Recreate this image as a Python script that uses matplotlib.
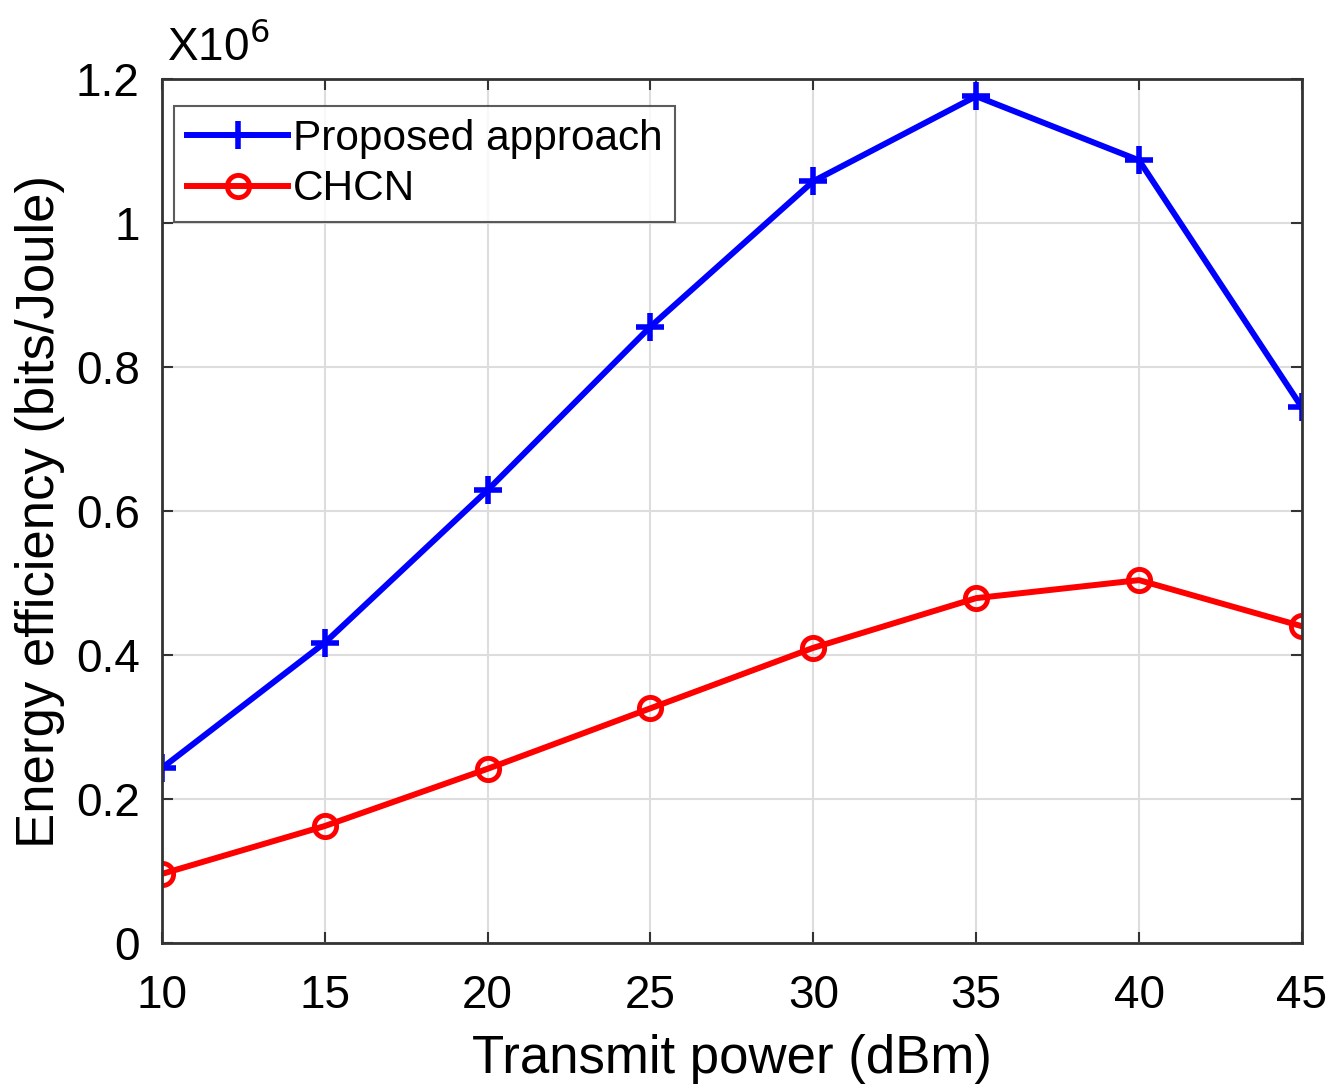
import matplotlib
matplotlib.use("Agg")
import matplotlib.pyplot as plt

plt.rcParams['font.family'] = ['Liberation Sans', 'DejaVu Sans']

power = [10, 15, 20, 25, 30, 35, 40, 45]
proposed = [0.243, 0.417, 0.629, 0.856, 1.058, 1.176, 1.087, 0.744]
chcn = [0.096, 0.1625, 0.242, 0.326, 0.410, 0.479, 0.504, 0.440]

fig = plt.figure(figsize=(13.38, 10.92), dpi=100)
ax = fig.add_axes([0.121, 0.1364, 0.852, 0.7913])

ax.plot(power, proposed, color='#0000ff', lw=4.3, marker='+', ms=20, mew=4,
        label='Proposed approach')
ax.plot(power, chcn, color='#ff0000', lw=4.3, marker='o', ms=16, mew=3.5,
        mfc='none', label='CHCN')

ax.set_xlim(10, 45)
ax.set_ylim(0, 1.2)
ax.set_xticks(power)
ax.set_yticks([0, 0.2, 0.4, 0.6, 0.8, 1.0, 1.2])
ax.set_yticklabels(['0', '0.2', '0.4', '0.6', '0.8', '1', '1.2'])
ax.grid(True, color='#dddddd', lw=1.5)
ax.tick_params(direction='in', length=8, width=1.5, labelsize=33, color='#333333',
               top=True, right=True)
ax.tick_params(axis='x', pad=22)
ax.tick_params(axis='y', pad=16)
for s in ax.spines.values():
    s.set_linewidth(2)
    s.set_color('#333333')

ax.set_xlabel('Transmit power (dBm)', fontsize=38, labelpad=12)
ax.set_ylabel('Energy efficiency (bits/Joule)', fontsize=38, labelpad=8)
fig.text(0.125, 0.945, r'X10$^{6}$', fontsize=33)

leg = ax.legend(loc='upper left', bbox_to_anchor=(-0.008, 0.993), fontsize=30.5,
                fancybox=False, edgecolor='#333333', handlelength=2.4,
                handletextpad=0.1, borderpad=0.3, labelspacing=0.25,
                borderaxespad=0.5)
leg.get_frame().set_linewidth(1.5)

fig.savefig('out.png', dpi=100)
